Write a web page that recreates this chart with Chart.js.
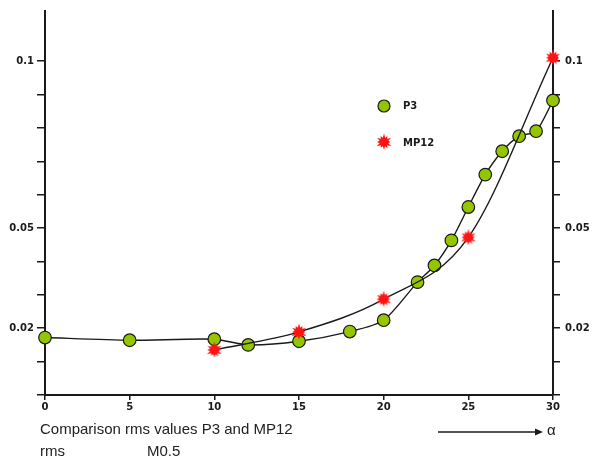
<!DOCTYPE html>
<html>
<head>
<meta charset="utf-8">
<script src="https://cdn.jsdelivr.net/npm/chart.js@4/dist/chart.umd.min.js"></script>
<style>
  html, body { margin: 0; padding: 0; background: #fff; }
  #wrap { width: 593px; height: 462px; }
</style>
</head>
<body>
<div id="wrap"><canvas id="c" width="593" height="462"></canvas></div>
<script>
// rms values against alpha
const p3Alpha   = [0, 5, 10, 12, 15, 18, 20, 22, 23, 24, 25, 26, 27, 28, 29, 30];
const p3Rms     = [0.0172, 0.0164, 0.0167, 0.0150, 0.0161, 0.0190, 0.0224, 0.0338, 0.0388, 0.0463, 0.0563, 0.0660, 0.0730, 0.0775, 0.0790, 0.0882];
const mp12Alpha = [10, 15, 20, 25, 30];
const mp12Rms   = [0.0135, 0.0189, 0.0287, 0.0472, 0.1010];
const xTicks    = [0, 5, 10, 15, 20, 25, 30];
const yLabelled = [0.02, 0.05, 0.1];

const GREEN = '#94c600';
const RED = '#ff1414';
const INK = '#1a1a1a';
const TICK_FONT = { size: 10, family: 'DejaVu Sans', weight: 'bold' };

// ragged red splash marker
function makeBurst(size) {
  const cv = document.createElement('canvas');
  cv.width = size; cv.height = size;
  const g = cv.getContext('2d');
  const c = size / 2;
  const outer = [1.0, 0.8, 0.95, 0.75, 1.0, 0.85, 0.9, 0.78, 1.0, 0.82, 0.92, 0.8];
  const n = outer.length;
  g.beginPath();
  for (let i = 0; i < n * 2; i++) {
    const r = i % 2 === 0 ? (c - 0.5) * outer[i / 2] : c * 0.5;
    const a = (Math.PI * i) / n - Math.PI / 2;
    const px = c + r * Math.cos(a), py = c + r * Math.sin(a);
    if (i === 0) g.moveTo(px, py); else g.lineTo(px, py);
  }
  g.closePath();
  g.fillStyle = RED;
  g.fill();
  return cv;
}
const burst = makeBurst(18);

const toPts = (xs, ys) => xs.map((x, i) => ({ x: x, y: ys[i] }));

const isLabelled = v => yLabelled.some(t => Math.abs(t - v) < 1e-9);
const yTickText = v => isLabelled(v) ? String(Math.round(v * 100) / 100) : '';

// captions, arrow and in-plot legend
const annotations = {
  id: 'annotations',
  afterDraw(chart) {
    const ctx = chart.ctx;
    ctx.save();
    // legend
    ctx.beginPath();
    ctx.arc(384, 106, 6, 0, Math.PI * 2);
    ctx.fillStyle = GREEN; ctx.fill();
    ctx.lineWidth = 1.2; ctx.strokeStyle = INK; ctx.stroke();
    ctx.drawImage(burst, 384 - 9, 142 - 9);
    ctx.fillStyle = INK;
    ctx.font = 'bold 10px "DejaVu Sans"';
    ctx.textBaseline = 'middle';
    ctx.textAlign = 'left';
    ctx.fillText('P3', 403, 106);
    ctx.fillText('MP12', 403, 143);

    // captions
    ctx.font = '15px "Liberation Sans", Arial, sans-serif';
    ctx.fillStyle = '#222';
    ctx.textBaseline = 'alphabetic';
    ctx.fillText('Comparison rms values P3 and MP12', 40, 434);
    ctx.fillText('rms', 40, 456);
    ctx.fillText('M0.5', 147, 456);

    // alpha arrow
    ctx.strokeStyle = INK; ctx.lineWidth = 1.3;
    ctx.beginPath(); ctx.moveTo(438, 432); ctx.lineTo(536, 432); ctx.stroke();
    ctx.beginPath(); ctx.moveTo(543, 432); ctx.lineTo(535, 428.5); ctx.lineTo(535, 435.5); ctx.closePath();
    ctx.fillStyle = INK; ctx.fill();
    ctx.font = '15px "Liberation Sans", Arial, sans-serif';
    ctx.fillText('\u03b1', 547, 435);
    ctx.restore();
  }
};

new Chart(document.getElementById('c'), {
  type: 'line',
  data: {
    datasets: [
      {
        label: 'P3',
        data: toPts(p3Alpha, p3Rms),
        borderColor: INK,
        borderWidth: 1.4,
        tension: 0.25,
        pointStyle: 'circle',
        pointRadius: 6.3,
        pointBackgroundColor: GREEN,
        pointBorderColor: INK,
        pointBorderWidth: 1.2,
        clip: false,
        order: 2
      },
      {
        label: 'MP12',
        data: toPts(mp12Alpha, mp12Rms),
        borderColor: INK,
        borderWidth: 1.4,
        cubicInterpolationMode: 'monotone',
        pointStyle: burst,
        pointRadius: 9,
        clip: false,
        order: 1
      }
    ]
  },
  options: {
    responsive: false,
    animation: false,
    events: [],
    layout: { padding: { top: 10, left: 0, right: 0, bottom: 0 } },
    plugins: { legend: { display: false }, tooltip: { enabled: false } },
    scales: {
      x: {
        type: 'linear',
        min: 0, max: 30,
        afterBuildTicks: s => { s.ticks = xTicks.map(v => ({ value: v })); },
        afterFit: s => { s.height = 67; },
        grid: { drawOnChartArea: false, tickLength: 5, color: INK, lineWidth: 1.5 },
        border: { color: INK, width: 2 },
        ticks: { color: INK, padding: 1, font: TICK_FONT, maxRotation: 0 }
      },
      y: {
        position: 'left',
        min: 0, max: 0.115,
        ticks: { stepSize: 0.01, color: INK, padding: 3, font: TICK_FONT, callback: yTickText },
        afterBuildTicks: s => { s.ticks = s.ticks.filter(t => t.value <= 0.1000001); },
        afterFit: s => { s.width = 45; },
        grid: { drawOnChartArea: false, tickLength: 8, color: INK, lineWidth: 1.5 },
        border: { color: INK, width: 2 }
      },
      y2: {
        position: 'right',
        min: 0, max: 0.115,
        ticks: { stepSize: 0.01, color: INK, padding: 5, font: TICK_FONT, callback: yTickText },
        afterBuildTicks: s => { s.ticks = s.ticks.filter(t => t.value <= 0.1000001); },
        afterFit: s => { s.width = 40; },
        grid: { drawOnChartArea: false, tickLength: 7, color: INK, lineWidth: 1.5 },
        border: { color: INK, width: 2 }
      }
    }
  },
  plugins: [annotations]
});
</script>
</body>
</html>
